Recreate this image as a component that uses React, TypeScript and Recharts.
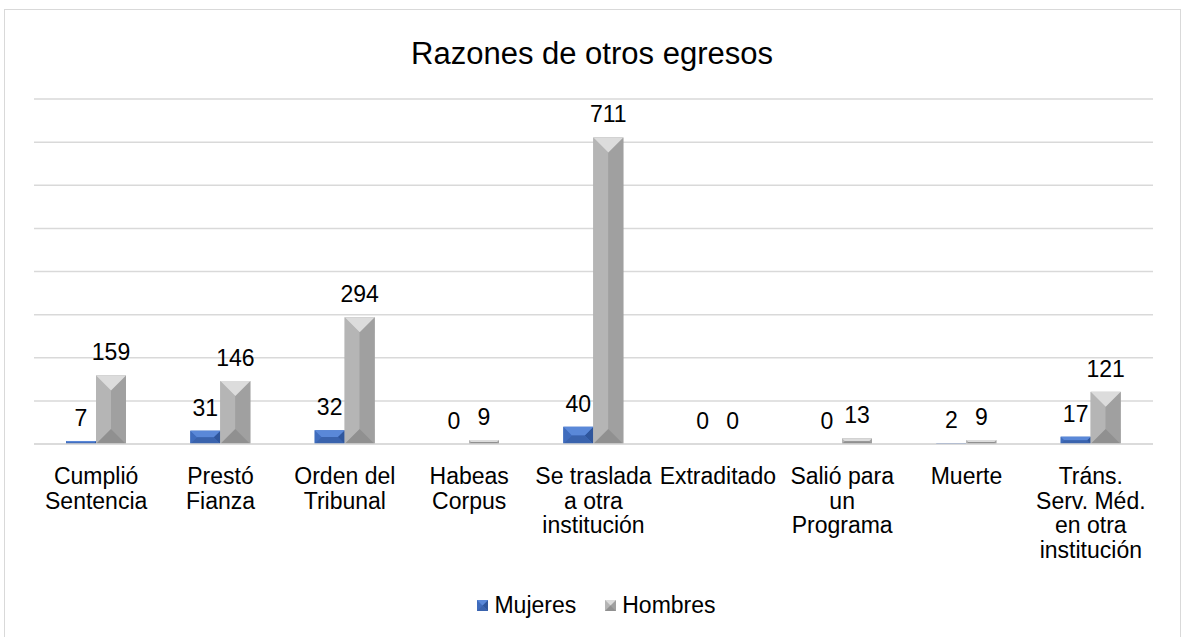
import React from "react";
import { BarChart, Bar, XAxis, YAxis, CartesianGrid, LabelList, Legend } from "recharts";

const categories = [
  "Cumplió\nSentencia",
  "Prestó\nFianza",
  "Orden del\nTribunal",
  "Habeas\nCorpus",
  "Se traslada\na otra\ninstitución",
  "Extraditado",
  "Salió para\nun\nPrograma",
  "Muerte",
  "Tráns.\nServ. Méd.\nen otra\ninstitución",
];
const mujeres = [7, 31, 32, 0, 40, 0, 0, 2, 17];
const hombres = [159, 146, 294, 9, 711, 0, 13, 9, 121];
const yTicks = [0, 100, 200, 300, 400, 500, 600, 700, 800];
const title = "Razones de otros egresos";
const seriesNames = ["Mujeres", "Hombres"];

const data = categories.map((c, i) => ({ name: c, Mujeres: mujeres[i], Hombres: hombres[i] }));

const FONT = "'Liberation Sans', Arial, sans-serif";

type Pal = { top: string; left: string; right: string; bottom: string; mid: string };
const bluePal: Pal = { top: "#5a88d8", left: "#3f6cbd", right: "#2f569c", bottom: "#3a63ad", mid: "#4472c4" };
const grayPal: Pal = { top: "#dcdcdc", left: "#b5b5b5", right: "#a0a0a0", bottom: "#909090", mid: "#a6a6a6" };

function bevel(x: number, y: number, w: number, h: number, p: Pal, key?: string) {
  if (!(h > 0) || !(w > 0)) return <g key={key} />;
  const b = Math.min(w / 2, h / 2);
  const pts = (a: number[][]) => a.map((q) => q.join(",")).join(" ");
  return (
    <g key={key}>
      <rect x={x} y={y} width={w} height={h} fill={p.mid} />
      <polygon points={pts([[x, y], [x + b, y + b], [x + b, y + h - b], [x, y + h]])} fill={p.left} />
      <polygon points={pts([[x + w, y], [x + w - b, y + b], [x + w - b, y + h - b], [x + w, y + h]])} fill={p.right} />
      <polygon points={pts([[x, y], [x + w, y], [x + w - b, y + b], [x + b, y + b]])} fill={p.top} />
      <polygon points={pts([[x, y + h], [x + w, y + h], [x + w - b, y + h - b], [x + b, y + h - b]])} fill={p.bottom} />
    </g>
  );
}

const makeShape = (p: Pal) => (props: any) => bevel(props.x, props.y, props.width, props.height, p);

const Tick = (props: any) => {
  const { x, y, payload } = props;
  const lines = String(payload.value).split("\n");
  return (
    <text x={x} y={y} textAnchor="middle" fontSize={23} fontFamily={FONT} fill="#000">
      {lines.map((l, i) => (
        <tspan key={i} x={x} dy={i === 0 ? 40 : 24.5}>
          {l}
        </tspan>
      ))}
    </text>
  );
};

const ValueLabel = (props: any) => {
  const { x, y, width, value } = props;
  return (
    <text x={x + width / 2} y={y - 15} textAnchor="middle" fontSize={23} fontFamily={FONT} fill="#000">
      {value}
    </text>
  );
};

const LegendContent = () => (
  <div
    style={{
      display: "flex",
      justifyContent: "center",
      alignItems: "center",
      fontFamily: FONT,
      fontSize: 23,
      color: "#000",
      paddingLeft: 12,
    }}
  >
    {seriesNames.map((n, i) => (
      <div key={n} style={{ display: "flex", alignItems: "center", marginRight: i === 0 ? 29 : 0 }}>
        <svg width={11} height={11} style={{ marginRight: 6 }}>
          {bevel(0, 0, 11, 11, i === 0 ? bluePal : grayPal)}
        </svg>
        <span>{n}</span>
      </div>
    ))}
  </div>
);

export default function App() {
  return (
    <div style={{ position: "absolute", left: 0, top: 0, width: 1181, height: 637, background: "#fff" }}>
      <div
        style={{
          position: "absolute",
          left: 4,
          top: 9,
          width: 1177,
          height: 640,
          border: "1.5px solid #d9d9d9",
          boxSizing: "border-box",
        }}
      />
      <BarChart
        width={1181}
        height={637}
        data={data}
        margin={{ top: 99, right: 28, left: 34, bottom: 43 }}
        barSize={30}
        barGap={0}
        style={{ position: "absolute", left: 0, top: 0 }}
      >
        <text x={592} y={64} textAnchor="middle" fontSize={31} fontFamily={FONT} fill="#000">
          {title}
        </text>
        <CartesianGrid vertical={false} stroke="#d9d9d9" strokeWidth={1.5} />
        <YAxis hide domain={[0, 800]} ticks={yTicks} />
        <XAxis
          dataKey="name"
          height={150}
          interval={0}
          tick={<Tick />}
          tickLine={false}
          tickSize={0}
          tickMargin={0}
          axisLine={{ stroke: "#d9d9d9", strokeWidth: 1.5 }}
        />
        <Legend
          content={<LegendContent />}
          wrapperStyle={{ top: 592, bottom: "auto", left: 0, width: 1181, height: 0 }}
        />
        <Bar dataKey="Mujeres" fill="#4472c4" shape={makeShape(bluePal)} isAnimationActive={false}>
          <LabelList dataKey="Mujeres" content={<ValueLabel />} />
        </Bar>
        <Bar dataKey="Hombres" fill="#a5a5a5" shape={makeShape(grayPal)} isAnimationActive={false}>
          <LabelList dataKey="Hombres" content={<ValueLabel />} />
        </Bar>
      </BarChart>
    </div>
  );
}
